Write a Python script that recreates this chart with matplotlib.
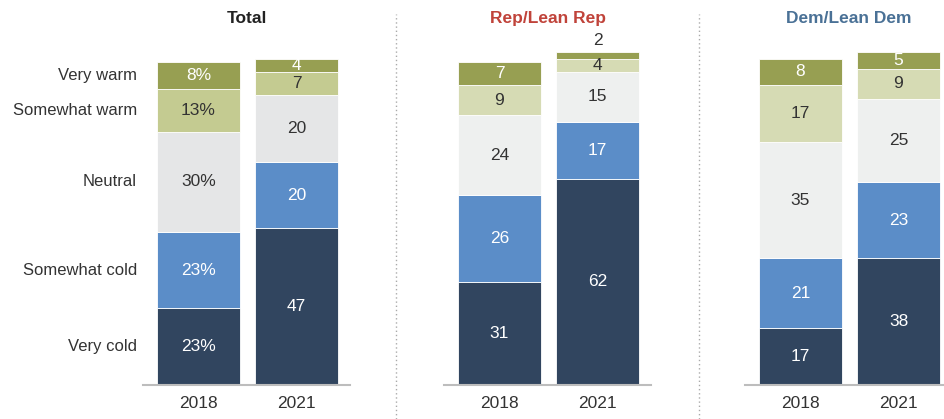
import matplotlib.pyplot as plt
from matplotlib.lines import Line2D
from matplotlib import font_manager

# 数据：各组 2018 / 2021 的态度分布（%）
years = ['2018', '2021']
levels = ['Very cold', 'Somewhat cold', 'Neutral', 'Somewhat warm', 'Very warm']
panels = ['Total', 'Rep/Lean Rep', 'Dem/Lean Dem']

total_2018 = [23, 23, 30, 13, 8]
total_2021 = [47, 20, 20, 7, 4]
rep_2018 = [31, 26, 24, 9, 7]
rep_2021 = [62, 17, 15, 4, 2]
dem_2018 = [17, 21, 35, 17, 8]
dem_2021 = [38, 23, 25, 9, 5]

data = [(total_2018, total_2021), (rep_2018, rep_2021), (dem_2018, dem_2021)]

# 字体
names = {f.name for f in font_manager.fontManager.ttflist}
fam = ['Liberation Sans Narrow', 'DejaVu Sans'] if 'Liberation Sans Narrow' in names else ['Liberation Sans', 'DejaVu Sans']
plt.rcParams['font.family'] = fam

# Total 面板的浅色段略深一些
seg_colors_total = ['#31455f', '#5b8dc8', '#e5e6e7', '#c4cb91', '#979f52']
seg_colors_party = ['#31455f', '#5b8dc8', '#eef0ef', '#d6dbb4', '#979f52']
txt_colors = ['white', 'white', '#333333', '#333333', 'white']
title_colors = ['#222222', '#c0433a', '#4a7196']

W, H = 944, 419
fig = plt.figure(figsize=(W / 100, H / 100), dpi=100)

ax_left = [143, 444, 745]
ax_w = 207
bottom, height = 34, 333
width = 0.847

for p, (name, (v18, v21)) in enumerate(zip(panels, data)):
    colors = seg_colors_total if p == 0 else seg_colors_party
    ax = fig.add_axes([ax_left[p] / W, bottom / H, ax_w / W, height / H])
    for xi, vals in enumerate((v18, v21)):
        base = 0
        for k, v in enumerate(vals):
            ax.bar(xi, v, width=width, bottom=base, color=colors[k],
                   edgecolor='white', linewidth=0.6)
            label = f'{v}%' if (p == 0 and xi == 0) else str(v)
            if v <= 2:
                ax.text(xi, base + v + 1.2, label, ha='center', va='bottom',
                        fontsize=12.5, color='#333333', clip_on=False)
            else:
                ax.text(xi, base + v / 2, label, ha='center', va='center',
                        fontsize=12.5, color=txt_colors[k], clip_on=False)
            base += v
    ax.set_xlim(-0.566, 1.546)
    ax.set_ylim(0, 100)
    ax.set_xticks([0, 1])
    ax.set_xticklabels(years, fontsize=12.5, color='#333333')
    ax.tick_params(axis='x', length=0, pad=8)
    ax.set_yticks([])
    for s in ['top', 'right', 'left']:
        ax.spines[s].set_visible(False)
    ax.spines['bottom'].set_color('#bdbdbd')
    ax.spines['bottom'].set_linewidth(1.5)
    ax.set_title(name, fontsize=12.5, fontweight='bold', color=title_colors[p],
                 pad=0, y=1.0 + 29 / height)

    # 左侧类别标签，对齐 Total 2018 各段中心
    if p == 0:
        base = 0
        for k, v in enumerate(v18):
            ax.text(-0.566 - 6 / 98, base + v / 2, levels[k], ha='right',
                    va='center', fontsize=12, color='#333333', clip_on=False)
            base += v

# 分隔虚线
for x in [396, 699]:
    fig.add_artist(Line2D([x / W, x / W], [0, 1 - 14 / H], color='#aaaaaa',
                          linestyle=(0, (1, 2)), linewidth=1))

fig.savefig('out.png', dpi=100)
